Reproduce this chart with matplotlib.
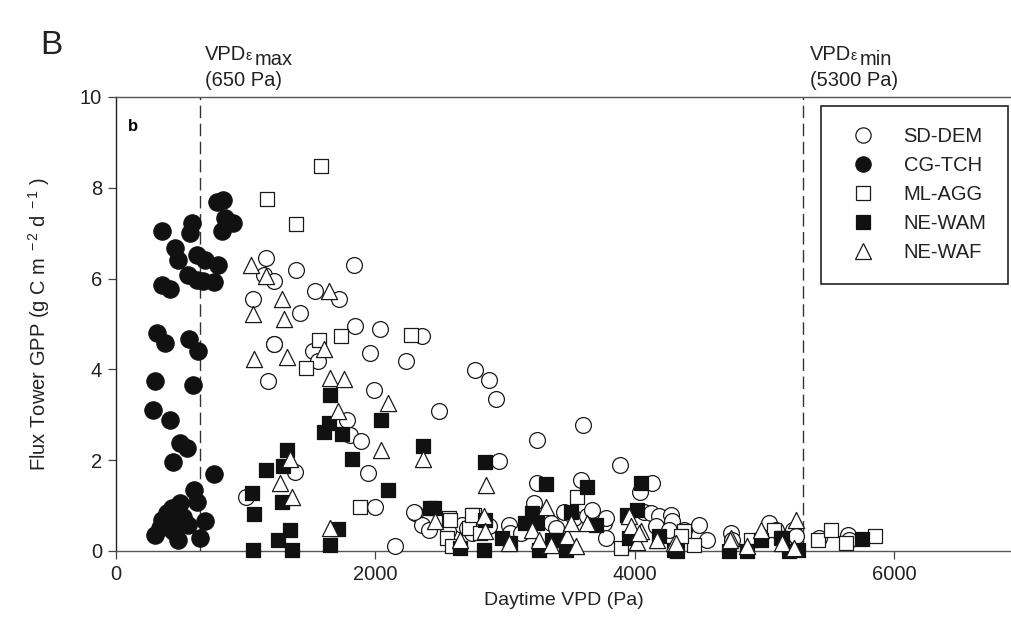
import matplotlib
matplotlib.use("Agg")
import matplotlib.pyplot as plt
from matplotlib.lines import Line2D

plt.rcParams['font.family'] = ['Liberation Sans', 'DejaVu Sans']
plt.rcParams['mathtext.fontset'] = 'custom'
plt.rcParams['mathtext.rm'] = 'Liberation Sans'
plt.rcParams['mathtext.it'] = 'Liberation Sans'

# ---------------- data (VPD in Pa, GPP in g C m-2 d-1) ----------------
sd_dem_x = [1158, 1138, 1215, 1390, 1838, 1537, 1717, 1060, 1416, 1846, 2039, 1215, 1521, 1961,
            2360, 1222, 1555, 2239, 1176, 1992, 1781, 1807, 1892, 1941, 1382, 1004, 2000, 2303,
            2360, 2412, 2154, 2772, 2875, 2927, 2489, 3249, 3604, 2952, 3887, 3249, 3583, 4137,
            2295, 2669, 2708, 2747, 3030, 3042, 3222, 3274, 3351, 3454, 3531, 3635, 3673, 3763,
            3776, 3776, 4041, 4072, 4124, 4188, 4162, 4278, 4291, 4265, 4381, 4497, 4560, 4741,
            4754, 5037, 5089, 5218, 5243, 5423, 5642, 5655, 2560, 2880, 3120, 3390]
sd_dem_y = [6.46, 6.09, 5.95, 6.20, 6.29, 5.72, 5.54, 5.54, 5.25, 4.95, 4.89, 4.55, 4.40, 4.36,
            4.73, 4.56, 4.18, 4.18, 3.74, 3.54, 2.89, 2.56, 2.43, 1.71, 1.75, 1.20, 0.98, 0.83,
            0.57, 0.46, 0.12, 3.98, 3.76, 3.35, 3.09, 2.45, 2.77, 1.99, 1.90, 1.49, 1.57, 1.49,
            0.87, 0.57, 0.50, 0.39, 0.57, 0.39, 1.05, 0.76, 0.61, 0.87, 0.72, 0.76, 0.90, 0.61,
            0.72, 0.28, 1.31, 0.87, 0.83, 0.76, 0.54, 0.80, 0.65, 0.46, 0.46, 0.57, 0.24, 0.39,
            0.24, 0.61, 0.46, 0.46, 0.32, 0.28, 0.35, 0.24, 0.45, 0.55, 0.40, 0.50]

cg_tch_x = [778, 827, 842, 901, 816, 585, 571, 353, 456, 481, 623, 687, 790, 559, 623, 674, 752,
            353, 417, 314, 378, 566, 636, 301, 597, 288, 417, 494, 551, 443, 752, 605, 623, 494,
            391, 353, 469, 559, 687, 301, 481, 649, 391, 443, 340, 520, 430]
cg_tch_y = [7.68, 7.73, 7.34, 7.23, 7.05, 7.23, 7.01, 7.05, 6.68, 6.42, 6.53, 6.42, 6.31, 6.09,
            5.98, 5.94, 5.92, 5.87, 5.76, 4.80, 4.58, 4.66, 4.40, 3.74, 3.66, 3.11, 2.89, 2.38,
            2.27, 1.95, 1.69, 1.35, 1.09, 1.05, 0.83, 0.68, 0.83, 0.57, 0.65, 0.35, 0.24, 0.28,
            0.54, 0.43, 0.50, 0.75, 0.95]

ml_agg_x = [1581, 1168, 1387, 1568, 1737, 2278, 1467, 1884, 2566, 2554, 2592, 2759, 2720, 2811,
            3557, 3892, 4381, 4458, 5076, 5127, 5411, 5513, 5629, 5856, 4355, 4896, 2579, 2747]
ml_agg_y = [8.47, 7.75, 7.20, 4.64, 4.73, 4.75, 4.03, 0.98, 0.72, 0.28, 0.10, 0.80, 0.50, 0.39,
            1.20, 0.06, 0.43, 0.13, 0.46, 0.28, 0.24, 0.46, 0.17, 0.32, 0.32, 0.24, 0.68, 0.79]

ne_wam_x = [1653, 1640, 1601, 1743, 2044, 1820, 2368, 2095, 1318, 1158, 1287, 1048, 1066, 1279,
            1344, 1253, 1357, 1056, 1709, 1647, 2425, 2456, 2849, 3313, 3629, 4046, 4021, 3506,
            3210, 3158, 3249, 2849, 2836, 2978, 3042, 3261, 3364, 3403, 3467, 3699, 3943, 3956,
            4188, 4303, 2656, 4330, 4728, 4870, 4973, 5140, 5256, 5190, 5753]
ne_wam_y = [3.44, 2.82, 2.63, 2.58, 2.88, 2.02, 2.32, 1.35, 2.23, 1.79, 1.88, 1.27, 0.82, 1.09,
            0.46, 0.24, 0.02, 0.02, 0.49, 0.13, 0.94, 0.94, 1.97, 1.48, 1.42, 1.49, 0.90, 0.87,
            0.83, 0.61, 0.61, 0.68, 0.02, 0.28, 0.17, 0.02, 0.24, 0.24, 0.02, 0.57, 0.80, 0.28,
            0.32, 0.02, 0.06, 0.00, 0.00, 0.00, 0.24, 0.28, 0.02, 0.00, 0.26]

ne_waf_x = [1042, 1156, 1279, 1056, 1292, 1640, 1606, 1066, 1318, 1653, 1755, 1709, 2095, 2044,
            2368, 1344, 1261, 1357, 1647, 2857, 2463, 2656, 2836, 2849, 3030, 3210, 3261, 3313,
            3351, 3480, 3506, 3544, 3635, 3956, 3969, 4046, 4021, 4175, 4303, 4033, 4317, 4741,
            4870, 4973, 5140, 5243, 5230, 4736]
ne_waf_y = [6.29, 6.06, 5.54, 5.21, 5.11, 5.72, 4.44, 4.23, 4.28, 3.81, 3.79, 3.08, 3.27, 2.23,
            2.02, 2.02, 1.49, 1.20, 0.50, 1.46, 0.65, 0.24, 0.76, 0.43, 0.17, 0.46, 0.24, 0.98,
            0.13, 0.32, 0.61, 0.10, 0.61, 0.76, 0.54, 0.43, 0.20, 0.24, 0.17, 0.39, 0.17, 0.28,
            0.10, 0.46, 0.17, 0.68, 0.06, 0.24]

site_names = ['SD-DEM', 'CG-TCH', 'ML-AGG', 'NE-WAM', 'NE-WAF']
vpd_eps_max = 650
vpd_eps_min = 5300
x_ticks = [0, 2000, 4000, 6000]
y_ticks = [0, 2, 4, 6, 8, 10]

# ---------------- figure ----------------
W, H = 1012, 627
fig = plt.figure(figsize=(W / 100, H / 100), dpi=100)
ax = fig.add_axes([116 / W, 1 - 551 / H, 1 - 116 / W, (551 - 97) / H])
ax.set_xlim(0, 6910)
ax.set_ylim(0, 10)

lw = 0.9
ec = '#1a1a1a'
fill = '#111111'
txt = '#222222'
kw = dict(linewidths=lw, zorder=3, clip_on=False)
ax.scatter(sd_dem_x, sd_dem_y, s=130, marker='o', facecolors='white', edgecolors=ec, **kw)
ax.scatter(cg_tch_x, cg_tch_y, s=155, marker='o', facecolors=fill, edgecolors=fill, **kw)
ax.scatter(ml_agg_x, ml_agg_y, s=115, marker='s', facecolors='white', edgecolors=ec, **kw)
ax.scatter(ne_wam_x, ne_wam_y, s=115, marker='s', facecolors=fill, edgecolors=fill, **kw)
ax.scatter(ne_waf_x, ne_waf_y, s=135, marker='^', facecolors='white', edgecolors=ec, **kw)

for v in (vpd_eps_max, vpd_eps_min):
    ax.axvline(v, color='#333333', lw=1.0, dashes=(9, 4), zorder=2)

ax.spines['right'].set_visible(False)
for sp in ('left', 'bottom', 'top'):
    ax.spines[sp].set_linewidth(1.0)
ax.spines['top'].set_color('#555555')
ax.spines['bottom'].set_color('#555555')
ax.spines['left'].set_color('#222222')

ax.set_xticks(x_ticks)
ax.set_yticks(y_ticks)
ax.tick_params(direction='out', length=6, width=0.9, color='#444444', labelsize=14.5,
               labelcolor=txt, pad=4)
ax.set_xlabel('Daytime VPD (Pa)', fontsize=14, color=txt, labelpad=6)
ax.set_ylabel(r'Flux Tower GPP (g C m$^{\ -2}$ d$^{\ -1}$ )', fontsize=14.5, color=txt, labelpad=20)

ax.text(0.013, 0.935, 'b', transform=ax.transAxes, fontsize=12, fontweight='bold', va='center')
fig.text(40 / W, 1 - 45 / H, 'B', fontsize=24, color=txt, va='center', ha='left')

# threshold annotations: "VPD" + small epsilon + subscript "max"/"min"
for x0, sub, val in ((205, 'max', '(650 Pa)'), (810, 'min', '(5300 Pa)')):
    fig.text(x0 / W, 1 - 60 / H, 'VPD', fontsize=14.5, color=txt, va='baseline')
    fig.text((x0 + 41) / W, 1 - 60 / H, 'ε', fontsize=10, color=txt, va='baseline')
    fig.text((x0 + 50) / W, 1 - 65 / H, sub, fontsize=14.5, color=txt, va='baseline')
    fig.text(x0 / W, 1 - 86 / H, val, fontsize=14.5, color=txt, va='baseline')

handles = [
    Line2D([], [], ls='none', marker='o', ms=11, mfc='white', mec=ec, mew=lw),
    Line2D([], [], ls='none', marker='o', ms=11, mfc=fill, mec=fill, mew=lw),
    Line2D([], [], ls='none', marker='s', ms=10, mfc='white', mec=ec, mew=lw),
    Line2D([], [], ls='none', marker='s', ms=10, mfc=fill, mec=fill, mew=lw),
    Line2D([], [], ls='none', marker='^', ms=11, mfc='white', mec=ec, mew=lw),
]
leg = ax.legend(handles, site_names, loc='upper left', bbox_to_anchor=(821 / W, 1 - 106 / H),
                bbox_transform=fig.transFigure, frameon=True, fancybox=False, framealpha=1,
                edgecolor='#222222', fontsize=14.5, labelspacing=0.5, handletextpad=0.95,
                borderpad=1.05, borderaxespad=0, handlelength=2.1)
leg.get_frame().set_linewidth(1.2)
for t in leg.get_texts():
    t.set_color(txt)

fig.savefig('out.png', dpi=100)
